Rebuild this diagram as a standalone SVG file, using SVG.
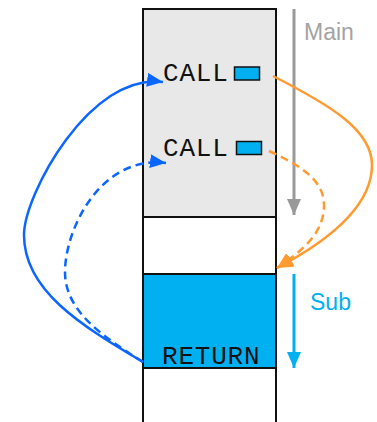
<svg xmlns="http://www.w3.org/2000/svg" width="377" height="422" viewBox="0 0 377 422">
<style>
.box{stroke:#111;stroke-width:2}
.mono{font-family:"Liberation Mono","Courier New",monospace;font-size:26px;letter-spacing:0.8px;fill:#111}
.sans{font-family:"Liberation Sans",Arial,sans-serif;font-size:23px}
.blue{fill:none;stroke:#0b66ff;stroke-width:2.5}
.orange{fill:none;stroke:#ff9a30;stroke-width:2.5}
.dash{stroke-dasharray:8 5}
</style>
<defs>
<marker id="ab" viewBox="0 0 16 14" refX="16" refY="7" markerWidth="16" markerHeight="14" markerUnits="userSpaceOnUse" orient="auto"><path d="M0,0 L16,7 L0,14 Z" fill="#0b66ff"/></marker>
<marker id="ao" viewBox="0 0 16 14" refX="16" refY="7" markerWidth="16" markerHeight="14" markerUnits="userSpaceOnUse" orient="auto"><path d="M0,0 L16,7 L0,14 Z" fill="#ff9a30"/></marker>
<marker id="ag" viewBox="0 0 16 14" refX="16" refY="7" markerWidth="16" markerHeight="14" markerUnits="userSpaceOnUse" orient="auto"><path d="M0,0 L16,7 L0,14 Z" fill="#999"/></marker>
<marker id="as" viewBox="0 0 16 14" refX="16" refY="7" markerWidth="16" markerHeight="14" markerUnits="userSpaceOnUse" orient="auto"><path d="M0,0 L16,7 L0,14 Z" fill="#00b0f0"/></marker>
</defs>
<g id="stack">
<rect class="box" x="143" y="9" width="133" height="208" fill="#e8e8e8"/>
<rect class="box" x="143" y="217" width="133" height="57" fill="#fff"/>
<rect class="box" x="143" y="274" width="133" height="94" fill="#00b0f0"/>
<rect class="box" x="143" y="368" width="133" height="60" fill="#fff"/>
</g>
<g id="call1">
<text class="mono" x="163" y="81">CALL</text>
<rect x="234.5" y="67" width="25" height="13" fill="#00b0f0" stroke="#111" stroke-width="1.5"/>
</g>
<g id="call2">
<text class="mono" x="163" y="156">CALL</text>
<rect x="236.5" y="141.5" width="25" height="13" fill="#00b0f0" stroke="#111" stroke-width="1.5"/>
</g>
<g id="return">
<text class="mono" x="162" y="364">RETURN</text>
</g>
<g id="main">
<line x1="294" y1="9" x2="294" y2="215" stroke="#999" stroke-width="3" marker-end="url(#ag)"/>
<text class="sans" x="304" y="40" fill="#a3a3a3">Main</text>
</g>
<g id="sub">
<line x1="294" y1="274" x2="294" y2="368" stroke="#00b0f0" stroke-width="3" marker-end="url(#as)"/>
<text class="sans" x="310" y="310" fill="#00b0f0">Sub</text>
</g>
<g id="connectors">
<path class="blue" d="M143,362 C80,325 24,290 24,235 C24,195 90,72 163,82" marker-end="url(#ab)"/>
<path class="blue dash" d="M143,362 C100,335 65,310 65,272 C65,230 100,155 166,163" marker-end="url(#ab)"/>
<path class="orange" d="M273,76 C330,105 372,130 372,165 C372,205 330,240 277,268" marker-end="url(#ao)"/>
<path class="orange dash" d="M269,151 C300,165 324,180 324,205 C324,235 300,252 277,268" marker-end="url(#ao)"/>
</g>
</svg>
